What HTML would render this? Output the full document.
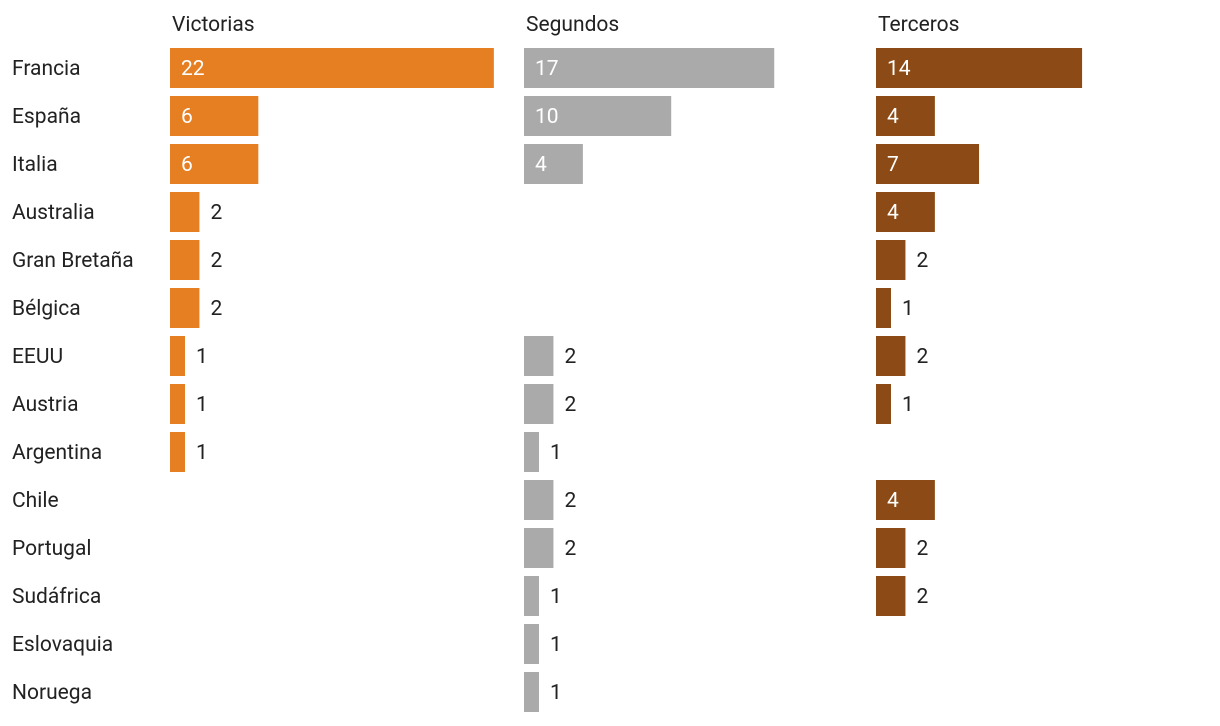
<!DOCTYPE html>
<html><head><meta charset="utf-8"><style>
body{margin:0;background:#fff;width:1220px;height:722px;overflow:hidden;font-family:"Roboto","Liberation Sans",sans-serif;}
svg text{font-family:"Roboto","Liberation Sans",sans-serif;}
</style></head><body>
<svg id="chart" width="1220" height="722"></svg>
<script>
const countries=["Francia","España","Italia","Australia","Gran Bretaña","Bélgica","EEUU","Austria","Argentina","Chile","Portugal","Sudáfrica","Eslovaquia","Noruega"];
const victorias=[22,6,6,2,2,2,1,1,1,0,0,0,0,0];
const segundos=[17,10,4,0,0,0,2,2,1,2,2,1,1,1];
const terceros=[14,4,7,4,2,1,2,1,0,4,2,2,0,0];
const headers=["Victorias","Segundos","Terceros"];
const ns="http://www.w3.org/2000/svg";
const svg=document.getElementById("chart");
const scale=14.72, rowH=48, top0=48, barH=40;
const y=i=>top0+i*rowH;
const panels=[{x0:170,vals:victorias,color:"#e67e22",key:"victorias"},{x0:524,vals:segundos,color:"#aaaaaa",key:"segundos"},{x0:876,vals:terceros,color:"#8b4a16",key:"terceros"}];
function t(x,yy,s,fill){const e=document.createElementNS(ns,"text");e.setAttribute("x",x);e.setAttribute("y",yy);e.setAttribute("font-size","21");e.setAttribute("fill",fill);e.textContent=s;svg.appendChild(e);return e;}
countries.forEach((c,i)=>{const e=t(12,y(i)+27,c,"#222");

});
panels.forEach((p,pi)=>{
const h=t(p.x0+2,31,headers[pi],"#222");


p.vals.forEach((v,i)=>{
if(!v)return;
const w=Math.max(v*scale,15);
const r=document.createElementNS(ns,"rect");
r.setAttribute("x",p.x0);r.setAttribute("y",y(i));r.setAttribute("width",w);r.setAttribute("height",barH);r.setAttribute("fill",p.color);


svg.appendChild(r);
const inside=v>=4;
const l=t(inside?p.x0+11:p.x0+w+11,y(i)+27,String(v),inside?"#fff":"#222");


});});
</script>
</body></html>
